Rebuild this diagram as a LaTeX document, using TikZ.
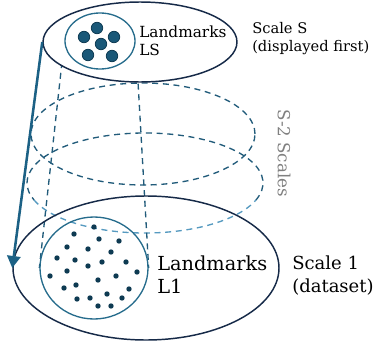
\documentclass[tikz,border=0pt]{standalone}
\usepackage{fontspec}
\setmainfont{DejaVu Serif}
\usetikzlibrary{shapes.geometric,arrows.meta,backgrounds}
\definecolor{scalenavy}{RGB}{22,42,72}
\definecolor{lmteal}{RGB}{38,108,140}
\definecolor{dotblue}{RGB}{26,88,120}
\definecolor{dotdark}{RGB}{14,58,82}
\definecolor{dashblue}{RGB}{33,91,122}
\definecolor{dashlight}{RGB}{86,154,192}
\definecolor{arrowblue}{RGB}{28,97,133}

\tikzset{
  scalering/.style={ellipse, draw=scalenavy, line width=1.1pt, inner sep=0pt},
  lmring/.style={ellipse, draw=lmteal, line width=1pt, inner sep=0pt},
  hidden/.style={draw=dashblue, line width=1pt, dash pattern=on 4.5pt off 3.5pt},
  lbl/.style={anchor=north west, inner sep=0pt, align=left, text=black},
}

\begin{document}
\begin{tikzpicture}[x=0.75pt, y=-0.75pt]
\useasboundingbox (0,0) rectangle (376,343);

% scale 1 (dataset)
\node[scalering, minimum width=199.5pt, minimum height=108pt] (scale1) at (146,268) {};
\node[lmring, minimum width=81pt, minimum height=76.5pt] (pts1) at (94,268) {};
% scale S, on top of everything
\node[scalering, fill=white, minimum width=145.5pt, minimum height=60pt] (scaleS) at (140,42) {};
\node[lmring, minimum width=52.5pt, minimum height=42pt] (ptsS) at (100,41) {};

\begin{pgfonlayer}{background}
  % the S-2 scales in between
  \draw[hidden] (143,134) ellipse [x radius=84pt, y radius=38.25pt];
  \coordinate (mid) at (145,183);
  \draw[hidden] (mid) ++(-20:88.5pt and 37.5pt) arc[start angle=-20, end angle=200, x radius=88.5pt, y radius=37.5pt];
  \draw[hidden, draw=dashlight] (mid) ++(200:88.5pt and 37.5pt) arc[start angle=200, end angle=340, x radius=88.5pt, y radius=37.5pt];
  \draw[hidden] (ptsS.west) -- (pts1.west);
  \draw[hidden] (ptsS.east) -- (pts1.east);
\end{pgfonlayer}

% landmarks
\foreach \x/\y in {84/37, 97/28, 114/37, 101/44, 88/55, 112/56}
  \filldraw[fill=dotblue, draw=dotdark, line width=0.6pt] (\x,\y) circle (4.3pt);
\foreach \x/\y in {94/227, 74/234, 99/239, 119/241, 67/247, 88/249, 111/252, 57/258, 75/260,
    102/262, 126/262, 88/266, 67/271, 137/272, 50/276, 116/276, 98/280, 76/285, 64/288,
    129/289, 107/294, 77/299, 90/298, 122/298, 98/306, 111/306}
  \fill[dotdark] (\x,\y) circle (2pt);

% labels
\node[lbl, font=\fontsize{11.5}{13}\selectfont] (lmS) at (139,26) {Landmarks\\LS};
\node[lbl, font=\fontsize{11}{13.5}\selectfont] (txtS) at (252,22) {Scale S\\(displayed first)};
\node[lbl, font=\fontsize{14.5}{17.25}\selectfont] (lm1) at (157,256) {Landmarks\\L1};
\node[lbl, font=\fontsize{13.5}{17.25}\selectfont] (txt1) at (292,256) {Scale 1\\(dataset)};
\node[font=\fontsize{12.5}{14}\selectfont, text=gray, rotate=-90] (midlbl) at (284,153) {S-2 Scales};

\draw[arrowblue, line width=1.9pt, -{Triangle[length=9pt, width=10pt]}] (scaleS.west) -- (scale1.west);
\end{tikzpicture}
\end{document}
